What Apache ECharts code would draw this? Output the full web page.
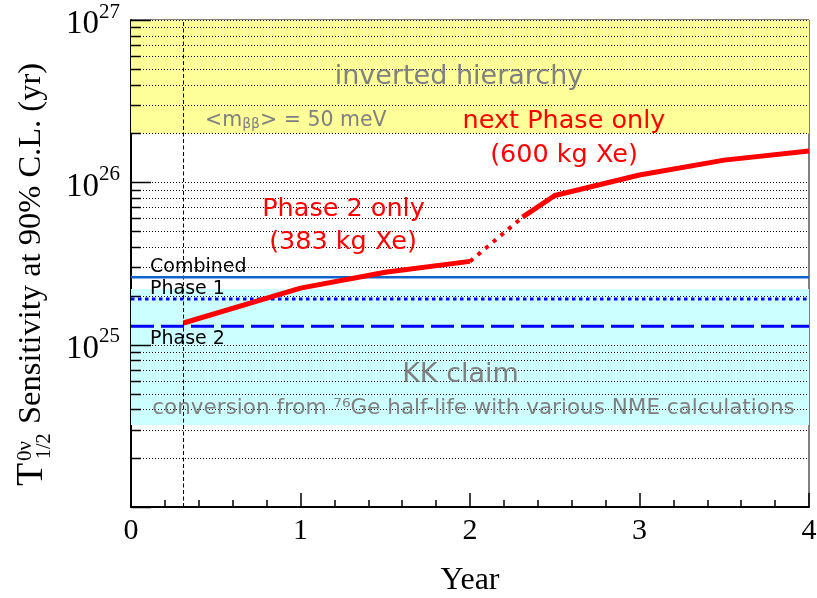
<!DOCTYPE html>
<html><head><meta charset="utf-8">
<script src="https://cdn.jsdelivr.net/npm/echarts@6/dist/echarts.min.js"></script>
<style>html,body{margin:0;padding:0;background:#fff}#c{width:817px;height:598px}</style>
</head><body><div id="c"></div>
<script>
// ---- data ----
const xTicks = [0, 1, 2, 3, 4];
const yDecades = [1e24, 1e25, 1e26];
const yMantissas = [1, 2, 3, 4, 5, 6, 7, 8, 9];
const yTopValue = 1e27;
const startYear = 0.31;
const phase2X = [0.31, 1.0, 1.5, 2.0];
const phase2Y = [1.36e25, 2.23e25, 2.79e25, 3.26e25];
const gapX = [2.0, 2.31];
const gapY = [3.26e25, 6.1e25];
const nextX = [2.31, 2.5, 3.0, 3.5, 4.0];
const nextY = [6.1e25, 8.3e25, 1.11e26, 1.37e26, 1.56e26];
const combinedY = 2.6e25;
const phase1Y = 1.91e25;
const phase2LimY = 1.30e25;
const ihBand = [2e26, 1e27];
const kkBand = [3.2e24, 2.2e25];

const zip = (xs, ys) => xs.map((x, i) => [x, ys[i]]);
const X0 = xTicks[0], X1 = xTicks[xTicks.length - 1];

const gridVals = [];
yDecades.forEach(d => yMantissas.forEach(m => gridVals.push([X0, X1, m * d, m === 1 ? 1 : 0])));
gridVals.push([X0, X1, yTopValue, 1]);

const bandColors = ['#ffff99', '#ccffff'];
const bandData = [[X0, X1, ihBand[0], ihBand[1]], [X0, X1, kkBand[0], kkBand[1]]];

const serif = 'Liberation Serif';
const sans = 'DejaVu Sans';

const chart = echarts.init(document.getElementById('c'), null, {renderer: 'canvas'});

function txt(text, x, y, size, color, align) {
  return {type: 'text', x: x, y: y, z: 100,
    style: {text: text, fontFamily: sans, fontSize: size, fill: color,
      align: align || 'center', verticalAlign: 'middle',
      textAlign: align || 'center', textVerticalAlign: 'middle'}};
}

const option = {
  animation: false,
  grid: {left: 131, right: 8, top: 20, bottom: 91, containLabel: false, outerBoundsMode: 'none',
    show: true, borderColor: '#000', borderWidth: 1, backgroundColor: 'transparent'},
  xAxis: {
    type: 'value', min: X0, max: X1, interval: 1,
    axisLine: {show: true, onZero: false, lineStyle: {color: '#000', width: 2}},
    axisTick: {show: true, inside: true, length: 14, lineStyle: {color: '#000', width: 1.5}},
    minorTick: {show: true, splitNumber: 5, length: 7, lineStyle: {color: '#000', width: 1.5}},
    splitLine: {show: false},
    axisLabel: {fontFamily: serif, fontSize: 30, color: '#000', margin: 9},
    name: 'Year', nameLocation: 'middle', nameGap: 58,
    nameTextStyle: {fontFamily: serif, fontSize: 32, color: '#000'}
  },
  yAxis: {
    type: 'log', logBase: 10, min: 1e24, max: 1e27,
    axisLine: {show: true, onZero: false, lineStyle: {color: '#000', width: 2}},
    axisTick: {show: false},
    splitLine: {show: false},
    axisLabel: {
      margin: 11,
      formatter: v => { const e = Math.round(Math.log10(v)); return e === 24 ? '' : '{b|10}{s|' + e + '}'; },
      rich: {
        b: {fontFamily: serif, fontSize: 33, color: '#000', padding: [9, 0, 0, 0]},
        s: {fontFamily: serif, fontSize: 21, color: '#000', padding: [0, 0, 16, 0]}
      }
    }
  },
  graphic: [
    {type: 'group', x: 31, y: 486, rotation: Math.PI / 2, z: 100, children: [
      {type: 'text', x: 0, y: 1, style: {text: 'T', fontFamily: serif, fontSize: 38, fill: '#000', align: 'left', verticalAlign: 'middle', textAlign: 'left', textVerticalAlign: 'middle'}},
      {type: 'text', x: 25, y: -6, style: {text: '0ν', fontFamily: serif, fontSize: 21, fill: '#000', align: 'left', verticalAlign: 'middle', textAlign: 'left', textVerticalAlign: 'middle'}},
      {type: 'text', x: 27, y: 14, style: {text: '1/2', fontFamily: serif, fontSize: 20, fill: '#000', align: 'left', verticalAlign: 'middle', textAlign: 'left', textVerticalAlign: 'middle'}},
      {type: 'text', x: 62, y: 0, style: {text: 'Sensitivity at 90% C.L. (yr)', fontFamily: serif, fontSize: 32.5, fill: '#000', align: 'left', verticalAlign: 'middle', textAlign: 'left', textVerticalAlign: 'middle'}}
    ]},
    txt('inverted hierarchy', 459, 77, 27, '#808080'),
    {type: 'text', x: 205, y: 121, z: 100, style: {
      text: '{a|<m}{b|ββ}{a|> = 50 meV}', align: 'left', verticalAlign: 'middle', textAlign: 'left', textVerticalAlign: 'middle',
      rich: {a: {fontFamily: sans, fontSize: 20.5, fill: '#808080', color: '#808080'},
             b: {fontFamily: sans, fontSize: 14, fill: '#808080', color: '#808080', padding: [6, 0, 0, 0]}}}},
    txt('next Phase only', 564, 121, 25.5, '#ff0000'),
    txt('(600 kg Xe)', 564, 155, 25.5, '#ff0000'),
    txt('Phase 2 only', 343.5, 209.5, 25.5, '#ff0000'),
    txt('(383 kg Xe)', 343, 242, 25.5, '#ff0000'),
    txt('Combined', 150, 267, 19, '#000', 'left'),
    txt('Phase 1', 150, 289.5, 19, '#000', 'left'),
    txt('Phase 2', 150, 339.5, 19, '#000', 'left'),
    txt('KK claim', 460.5, 375, 27, '#808080'),
    txt('conversion from ⁷⁶Ge half-life with various NME calculations', 473.5, 408, 21.5, '#808080')
  ],
  series: [
    {type: 'custom', name: 'bands', z: 1, silent: true,
      encode: {x: [0, 1], y: [2, 3]}, data: bandData,
      renderItem: (params, api) => {
        const p0 = api.coord([api.value(0), api.value(3)]);
        const p1 = api.coord([api.value(1), api.value(2)]);
        return {type: 'rect', shape: {x: p0[0], y: p0[1], width: p1[0] - p0[0], height: p1[1] - p0[1]},
          style: {fill: bandColors[params.dataIndex]}};
      }},
    {type: 'custom', name: 'grid', z: 2, silent: true,
      encode: {x: [0, 1], y: 2}, data: gridVals,
      renderItem: (params, api) => {
        const v = api.value(2), major = api.value(3) === 1;
        const p0 = api.coord([api.value(0), v]);
        const p1 = api.coord([api.value(1), v]);
        const y = Math.round(p0[1]) + 0.5;
        return {type: 'group', children: [
          {type: 'line', shape: {x1: p0[0], y1: y, x2: p1[0], y2: y}, style: {stroke: '#000', lineWidth: 1, lineDash: [1, 2]}},
          {type: 'line', shape: {x1: p0[0], y1: y, x2: p0[0] + (major ? 20 : 10), y2: y}, style: {stroke: '#000', lineWidth: 1.5}}
        ]};
      }},
    {type: 'line', name: 'start', z: 3, showSymbol: false, silent: true,
      data: [[startYear, 1e24], [startYear, yTopValue]],
      lineStyle: {color: '#000', width: 1, type: [4, 2.5]}},
    {type: 'line', name: 'Combined', z: 4, showSymbol: false, silent: true,
      data: [[X0, combinedY], [X1, combinedY]],
      lineStyle: {color: '#1262cc', width: 2.5}},
    {type: 'line', name: 'Phase 1', z: 4, showSymbol: false, silent: true,
      data: [[X0, phase1Y], [X1, phase1Y]],
      lineStyle: {color: '#0000ff', width: 3, type: [3.5, 3.5]}},
    {type: 'line', name: 'Phase 2', z: 4, showSymbol: false, silent: true,
      data: [[X0, phase2LimY], [X1, phase2LimY]],
      lineStyle: {color: '#0000ff', width: 3, type: [23, 7]}},
    {type: 'line', name: 'Phase 2 only', z: 5, showSymbol: false, silent: true,
      data: zip(phase2X, phase2Y), lineStyle: {color: '#ff0000', width: 5}},
    {type: 'line', name: 'transition', z: 5, showSymbol: false, silent: true,
      data: zip(gapX, gapY), lineStyle: {color: '#ff0000', width: 4, type: [4, 6]}},
    {type: 'line', name: 'next Phase only', z: 5, showSymbol: false, silent: true,
      data: zip(nextX, nextY), lineStyle: {color: '#ff0000', width: 5}}
  ]
};
chart.setOption(option);
</script>
</body></html>
